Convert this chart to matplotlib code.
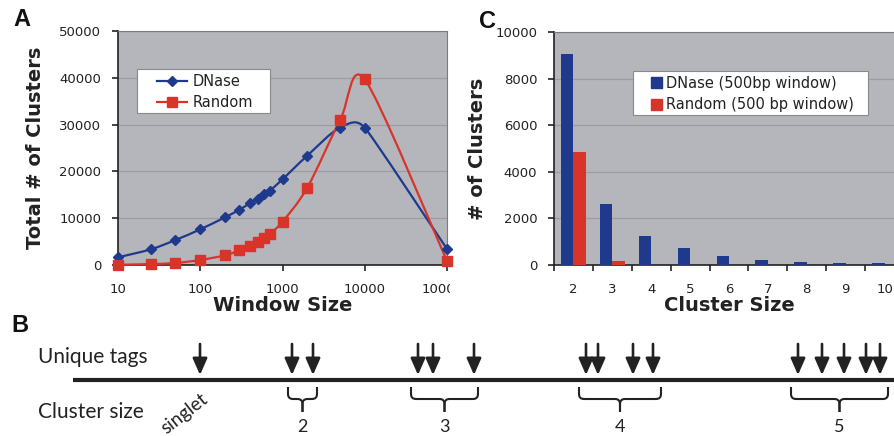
import matplotlib
matplotlib.use("Agg")
import matplotlib.pyplot as plt
import numpy as np
from matplotlib.path import Path
from matplotlib.patches import PathPatch, Rectangle
from matplotlib.lines import Line2D
from matplotlib.ticker import FixedLocator, NullFormatter, FixedFormatter, NullLocator
from matplotlib.transforms import Bbox

# ---------------- data ----------------
window_sizes = [10, 25, 50, 100, 200, 300, 400, 500, 600, 700, 1000, 2000, 5000, 10000, 100000]
dnase_totals = [1640, 3350, 5340, 7620, 10190, 11820, 13180, 14170, 15170, 15880, 18300, 23360, 29340, 29340, 3420]
random_totals = [50, 200, 430, 1070, 2070, 3130, 3990, 4910, 5770, 6620, 9260, 16520, 30910, 39670, 855]
window_ticks = [10, 100, 1000, 10000, 100000]

cluster_sizes = [2, 3, 4, 5, 6, 7, 8, 9, 10]
dnase_counts = [9070, 2600, 1260, 710, 390, 200, 110, 85, 70]
random_counts = [4830, 190, 0, 0, 0, 0, 0, 0, 0]

series_a = ["DNase", "Random"]
series_c = ["DNase (500bp window)", "Random (500 bp window)"]

# schematic (panel B): tag positions grouped by cluster
tag_groups = [[200], [292, 313], [418, 433, 474], [586, 598, 633, 653], [798, 822, 844, 866, 880]]
brace_spans = [(288, 317), (411, 478), (579, 661), (791, 888)]
brace_labels = ["2", "3", "4", "5"]

BLUE = "#1f3a8c"
RED = "#d8342a"
BG = "#b5b5bc"
GRID = "#9c9ca2"
INK = "#222222"

W, H = 894, 436
fig = plt.figure(figsize=(W / 100, H / 100), dpi=100)
fig.patch.set_facecolor("white")


def px_axes(l, t, r, b):
    return [l / W, (H - b) / H, (r - l) / W, (b - t) / H]


def smooth_path(ax, xs, ys):
    # Excel-like smoothed line: Bezier handles = 1/6 of neighbour vector,
    # capped at half of the adjacent chord (measured in display space)
    pts = ax.transData.transform(np.column_stack([xs, ys]))
    n = len(pts)
    d = [np.hypot(*(pts[i + 1] - pts[i])) for i in range(n - 1)]
    hs = []
    for i in range(n):
        if i == 0:
            hs.append((pts[1] - pts[0]) / 6)
            continue
        if i == n - 1:
            hs.append((pts[-1] - pts[-2]) / 6)
            continue
        T = pts[i + 1] - pts[i - 1]
        nt = np.hypot(*T)
        L = min(nt / 6, d[i - 1] / 2, d[i] / 2)
        hs.append(T / nt * L)
    disp = [pts[0]]
    codes = [Path.MOVETO]
    for i in range(n - 1):
        disp += [pts[i] + hs[i], pts[i + 1] - hs[i + 1], pts[i + 1]]
        codes += [Path.CURVE4] * 3
    data = ax.transData.inverted().transform(np.array(disp))
    return Path(data, codes)


def style_axes(ax):
    ax.set_facecolor(BG)
    for s in ["top", "right"]:
        ax.spines[s].set_color("#7a7a80")
        ax.spines[s].set_linewidth(0.8)
    for s in ["left", "bottom"]:
        ax.spines[s].set_color(INK)
        ax.spines[s].set_linewidth(1.2)
    ax.yaxis.grid(True, color=GRID, lw=0.9)
    ax.set_axisbelow(True)
    ax.tick_params(axis="both", direction="out", length=4, width=1.2, color=INK,
                   labelsize=9.5, labelcolor=INK)


def legend_box(ax, x0, y0, x1, y1):
    ax.add_patch(Rectangle((x0, y0), x1 - x0, y1 - y0, transform=ax.transAxes,
                           facecolor="white", edgecolor="#8a8a8a", lw=0.8, zorder=5))


# ---------------- panel A ----------------
axA = fig.add_axes(px_axes(118, 31, 447, 265))
style_axes(axA)
axA.set_xscale("log")
axA.set_xlim(10, 100000)
axA.set_ylim(0, 50000)
axA.set_yticks(np.arange(0, 50001, 10000))
axA.xaxis.set_major_locator(FixedLocator(window_ticks))
axA.xaxis.set_major_formatter(FixedFormatter([str(v) for v in window_ticks]))
axA.xaxis.set_minor_locator(NullLocator())
axA.tick_params(axis="x", pad=9)
axA.tick_params(axis="y", pad=8)

for vals, col, mk, ms in [(dnase_totals, BLUE, "D", 5.5), (random_totals, RED, "s", 6.5)]:
    axA.add_patch(PathPatch(smooth_path(axA, window_sizes, vals), fill=False, edgecolor=col,
                            lw=1.6, clip_on=False, zorder=3))
    axA.plot(window_sizes, vals, ls="none", marker=mk, ms=ms, color=col, clip_on=False, zorder=4)

legend_box(axA, 0.058, 0.650, 0.462, 0.838)
handlesA = [Line2D([], [], color=BLUE, lw=1.6, marker="D", ms=5.5),
            Line2D([], [], color=RED, lw=1.6, marker="s", ms=6.5)]
legA = axA.legend(handlesA, series_a, loc="upper left", bbox_to_anchor=(0.118, 0.815),
                  fontsize=10.5, frameon=False, handlelength=2.1, borderpad=0,
                  labelspacing=0.42, handletextpad=0.35, borderaxespad=0)
legA.set_zorder(6)
for t in legA.get_texts():
    t.set_color(INK)

axA.set_xlabel("Window Size", fontsize=14, fontweight="bold", color=INK, labelpad=0)
axA.set_ylabel("Total # of Clusters", fontsize=14, fontweight="bold", color=INK, labelpad=10)

# ---------------- panel C ----------------
axC = fig.add_axes(px_axes(554, 32, 904, 265))
style_axes(axC)
xpos = np.arange(len(cluster_sizes))
bw = 0.32
axC.bar(xpos - bw / 2, dnase_counts, width=bw, color=BLUE, zorder=3)
axC.bar(xpos + bw / 2, random_counts, width=bw, color=RED, zorder=3)
axC.set_xlim(-0.5, len(cluster_sizes) - 0.5)
axC.set_ylim(0, 10000)
axC.set_yticks(np.arange(0, 10001, 2000))
axC.xaxis.set_major_locator(FixedLocator(np.arange(len(cluster_sizes) + 1) - 0.5))
axC.xaxis.set_major_formatter(NullFormatter())
axC.xaxis.set_minor_locator(FixedLocator(xpos))
axC.xaxis.set_minor_formatter(FixedFormatter([str(c) for c in cluster_sizes]))
axC.tick_params(axis="x", which="minor", length=0, pad=13, labelsize=9.5, labelcolor=INK)
axC.tick_params(axis="y", pad=8)

legend_box(axC, 0.2257, 0.644, 0.897, 0.8326)
handlesC = [plt.Rectangle((0, 0), 1, 1, color=BLUE), plt.Rectangle((0, 0), 1, 1, color=RED)]
legC = axC.legend(handlesC, series_c, loc="upper left", bbox_to_anchor=(0.276, 0.812),
                  fontsize=10.5, frameon=False, handlelength=0.75, handleheight=0.75,
                  borderpad=0, labelspacing=0.45, handletextpad=0.3, borderaxespad=0)
legC.set_zorder(6)
for t in legC.get_texts():
    t.set_color(INK)

axC.set_xlabel("Cluster Size", fontsize=14, fontweight="bold", color=INK, labelpad=0)
axC.set_ylabel("# of Clusters", fontsize=14, fontweight="bold", color=INK, labelpad=6)

# the reference crops panel A's last tick label at the gap between panels
fig.canvas.draw()
clip = Bbox.from_extents(0, 0, 450, H)
for lab in axA.get_xticklabels():
    lab.set_clip_on(True)
    lab.set_clip_box(clip)

# ---------------- panel B (schematic) ----------------
axB = fig.add_axes([0, 0, 1, 1], zorder=-1)
axB.set_xlim(0, W)
axB.set_ylim(H, 0)
axB.axis("off")

line_y = 380
axB.plot([73, W], [line_y, line_y], color=INK, lw=3, solid_capstyle="butt")

for grp in tag_groups:
    for x in grp:
        axB.annotate("", xy=(x, 375), xytext=(x, 344),
                     arrowprops=dict(arrowstyle="-|>,head_length=0.5,head_width=0.22",
                                     mutation_scale=20, lw=1.9, color=INK,
                                     shrinkA=0, shrinkB=0))


def brace(ax, x0, x1, ytop=387, ymid=399, ystem=412, r=5):
    xc = (x0 + x1) / 2
    for xe, sgn in [(x0, 1), (x1, -1)]:
        verts = [(xe, ytop), (xe, ymid - r), (xe, ymid), (xe + sgn * r, ymid),
                 (xc - sgn * r, ymid), (xc, ymid), (xc, ymid + r), (xc, ystem)]
        codes = [Path.MOVETO, Path.LINETO, Path.CURVE3, Path.CURVE3, Path.LINETO,
                 Path.CURVE3, Path.CURVE3, Path.LINETO]
        ax.add_patch(PathPatch(Path(verts, codes), fill=False, edgecolor=INK, lw=1.5,
                               capstyle="butt"))
    return xc


bfont = ["Lato", "DejaVu Sans"]
for (x0, x1), lab in zip(brace_spans, brace_labels):
    xc = brace(axB, x0, x1)
    axB.text(xc, 427, lab, ha="center", va="center", fontsize=13, family=bfont, color=INK)

axB.text(38, 357, "Unique tags", ha="left", va="center", fontsize=15, family=bfont, color=INK)
axB.text(38, 412, "Cluster size", ha="left", va="center", fontsize=15, family=bfont, color=INK)
axB.text(184, 414, "singlet", ha="center", va="center", rotation=38, rotation_mode="anchor",
         fontsize=13.5, family=bfont, color=INK)

# panel letters
for x, y, s in [(22, 20, "A"), (20, 325, "B"), (487, 21, "C")]:
    axB.text(x, y, s, ha="center", va="center", fontsize=17, fontweight="bold",
             family="Liberation Sans", color="#111111")

fig.savefig("out.png", dpi=100, facecolor="white")
